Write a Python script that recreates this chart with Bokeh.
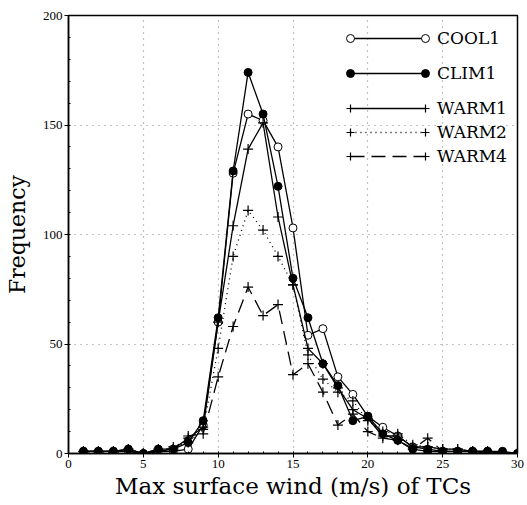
from bokeh.plotting import figure
from bokeh.models import Legend, LegendItem, FixedTicker
from bokeh.embed import file_html
from bokeh.resources import INLINE

wind = list(range(1, 31))
cool1 = [1, 1, 1, 1, 0, 1, 1, 2, 13, 60, 128, 155, 152, 140, 103, 54, 57, 35, 27, 17, 12, 8, 3, 2, 1, 1, 1, 1, 0, 0]
clim1 = [1, 1, 1, 2, 0, 2, 2, 5, 15, 62, 129, 174, 155, 122, 80, 62, 41, 31, 15, 17, 9, 6, 2, 1, 1, 1, 1, 1, 1, 0]
warm1 = [1, 1, 1, 2, 0, 1, 2, 7, 12, 60, 104, 139, 151, 108, 77, 48, 41, 30, 20, 16, 8, 8, 3, 3, 2, 2, 1, 1, 0, 0]
warm2 = [0, 1, 0, 2, 0, 1, 3, 5, 11, 48, 90, 111, 102, 90, 77, 45, 34, 28, 24, 15, 10, 9, 4, 3, 2, 2, 1, 1, 0, 0]
warm4 = [1, 1, 1, 1, 0, 2, 2, 8, 9, 35, 58, 76, 63, 68, 36, 41, 28, 13, 18, 10, 7, 6, 2, 7, 1, 1, 1, 0, 0, 0]

x_ticks = [0, 5, 10, 15, 20, 25, 30]
y_ticks = [0, 50, 100, 150, 200]

TITLE_FONT = "DejaVu Serif"
TICK_FONT = "Liberation Serif"

p = figure(width=527, height=505, x_range=(0, 30), y_range=(0, 200),
           min_border_left=68, min_border_right=10, min_border_top=15, min_border_bottom=52,
           output_backend="svg", toolbar_location=None)
p.outline_line_color = "black"
p.outline_line_width = 1.5
p.background_fill_color = "white"
p.border_fill_color = "white"

for ax in (p.xaxis[0], p.yaxis[0]):
    ax.major_tick_out = 4
    ax.major_tick_in = 0
    ax.minor_tick_out = 0
    ax.minor_tick_in = 2
    ax.axis_line_width = 1.5
    ax.axis_line_color = "black"
    ax.major_tick_line_color = "black"
    ax.minor_tick_line_color = "black"
    ax.major_label_text_font = TICK_FONT
    ax.major_label_text_font_size = "13px"
    ax.major_label_text_color = "black"
    ax.axis_label_text_font = TITLE_FONT
    ax.axis_label_text_font_style = "normal"
    ax.axis_label_text_color = "black"

p.xaxis.axis_label_text_font_size = "23px"
p.yaxis.axis_label_text_font_size = "22px"
p.xaxis.ticker = FixedTicker(ticks=x_ticks, minor_ticks=list(range(0, 31)))
p.yaxis.ticker = FixedTicker(ticks=y_ticks, minor_ticks=list(range(0, 201, 10)))
p.xaxis.axis_label = "Max surface wind (m/s) of TCs"
p.yaxis.axis_label = "Frequency"
p.xaxis.major_label_standoff = 2
p.yaxis.major_label_standoff = 2
p.xaxis.axis_label_standoff = 2
p.yaxis.axis_label_standoff = 10

p.xgrid.ticker = FixedTicker(ticks=[5, 10, 15, 20, 25])
p.ygrid.ticker = FixedTicker(ticks=[50, 100, 150])
for g in (p.xgrid[0], p.ygrid[0]):
    g.grid_line_color = "#888888"
    g.grid_line_dash = "1 5"
    g.grid_line_width = 1.2

lw = 1.3
l_cool = p.line(wind, cool1, line_color="black", line_width=lw)
s_cool = p.scatter(wind, cool1, marker="circle", size=8, fill_color="white", line_color="black", line_width=1)
l_clim = p.line(wind, clim1, line_color="black", line_width=lw)
s_clim = p.scatter(wind, clim1, marker="circle", size=8, fill_color="black", line_color="black")
l_w1 = p.line(wind, warm1, line_color="black", line_width=lw)
s_w1 = p.scatter(wind, warm1, marker="cross", size=10, line_color="black", line_width=1.2)
l_w2 = p.line(wind, warm2, line_color="black", line_width=lw, line_dash="1 4")
s_w2 = p.scatter(wind, warm2, marker="cross", size=10, line_color="black", line_width=1.2)
l_w4 = p.line(wind, warm4, line_color="black", line_width=lw, line_dash="14 7")
s_w4 = p.scatter(wind, warm4, marker="cross", size=10, line_color="black", line_width=1.2)

names1 = ["COOL1", "CLIM1"]
names2 = ["WARM1", "WARM2", "WARM4"]
lines1, marks1 = [l_cool, l_clim], [s_cool, s_clim]
lines2, marks2 = [l_w1, l_w2, l_w4], [s_w1, s_w2, s_w4]

GW = 75      # legend sample line length
MW = 20      # marker sample box
X0 = 282     # legend left, px from frame left

def add_legend(items, loc, spacing, glyph_width, standoff):
    lg = Legend(items=items, location=loc, spacing=spacing, padding=0, margin=0,
                glyph_width=glyph_width, glyph_height=24, label_standoff=standoff,
                label_width=0, label_height=0,
                label_text_font=TITLE_FONT, label_text_font_size="17px", label_text_color="black",
                border_line_color=None, background_fill_alpha=0)
    p.add_layout(lg, "center")

for names, lines, marks, bottom, sp in ((names1, lines1, marks1, 368, 11),
                                        (names2, lines2, marks2, 285, 0)):
    add_legend([LegendItem(label=n, renderers=[r]) for n, r in zip(names, lines)],
               (X0, bottom), sp, GW, 12)
    add_legend([LegendItem(label=" ", renderers=[r]) for r in marks],
               (X0 - MW // 2, bottom), sp, MW, 0)
    add_legend([LegendItem(label=" ", renderers=[r]) for r in marks],
               (X0 + GW - MW // 2, bottom), sp, MW, 0)

open("out.html", "w").write(file_html(p, INLINE))
